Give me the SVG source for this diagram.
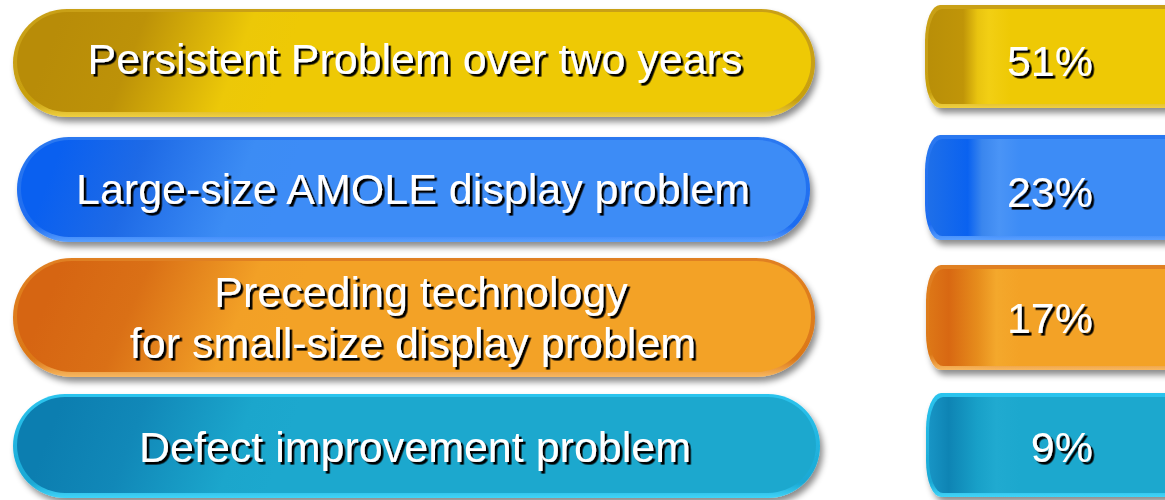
<svg xmlns="http://www.w3.org/2000/svg" width="1165" height="500" viewBox="0 0 1165 500">
<style>
.lbl{font-family:"Liberation Sans",Arial,sans-serif;font-size:43px;fill:#ffffff;filter:url(#ts)}
.mid{text-anchor:middle}
.end{text-anchor:end}
.pill{filter:url(#ds)}
</style>
<defs>
<filter id="ds" x="-5%" y="-20%" width="112%" height="150%">
<feDropShadow dx="3" dy="5" stdDeviation="3" flood-color="#000" flood-opacity="0.45"/>
</filter>
<filter id="ts" x="-5%" y="-20%" width="110%" height="150%">
<feDropShadow dx="2.6" dy="2.6" stdDeviation="0.5" flood-color="#000" flood-opacity="1"/>
</filter>
<linearGradient id="rimY" x1="0" y1="0" x2="0" y2="1"><stop offset="0" stop-color="#c9a018"/><stop offset="0.85" stop-color="#c8a010"/><stop offset="1" stop-color="#f0d040"/></linearGradient>
<linearGradient id="rimB" x1="0" y1="0" x2="0" y2="1"><stop offset="0" stop-color="#2a78f0"/><stop offset="0.85" stop-color="#1e6cf0"/><stop offset="1" stop-color="#5aa0ff"/></linearGradient>
<linearGradient id="rimO" x1="0" y1="0" x2="0" y2="1"><stop offset="0" stop-color="#e08022"/><stop offset="0.85" stop-color="#dc7818"/><stop offset="1" stop-color="#f8b860"/></linearGradient>
<linearGradient id="rimT" x1="0" y1="0" x2="0" y2="1"><stop offset="0" stop-color="#2cc4ee"/><stop offset="0.85" stop-color="#1aa8d4"/><stop offset="1" stop-color="#40d4f8"/></linearGradient>
<linearGradient id="fY" gradientUnits="userSpaceOnUse" x1="60" y1="20" x2="270" y2="100"><stop offset="0" stop-color="#b88c08"/><stop offset="0.35" stop-color="#bd9208"/><stop offset="0.8" stop-color="#ecc808"/><stop offset="1" stop-color="#eec905"/></linearGradient>
<linearGradient id="fB" gradientUnits="userSpaceOnUse" x1="60" y1="150" x2="270" y2="230"><stop offset="0" stop-color="#0a60f0"/><stop offset="0.35" stop-color="#1e6ae6"/><stop offset="0.8" stop-color="#3c8cf4"/><stop offset="1" stop-color="#3d8cf6"/></linearGradient>
<linearGradient id="fO" gradientUnits="userSpaceOnUse" x1="60" y1="270" x2="270" y2="360"><stop offset="0" stop-color="#d66512"/><stop offset="0.35" stop-color="#da7016"/><stop offset="0.8" stop-color="#f2a026"/><stop offset="1" stop-color="#f3a226"/></linearGradient>
<linearGradient id="fT" gradientUnits="userSpaceOnUse" x1="60" y1="405" x2="270" y2="485"><stop offset="0" stop-color="#0c7eb0"/><stop offset="0.35" stop-color="#1188b8"/><stop offset="0.8" stop-color="#1ba6cc"/><stop offset="1" stop-color="#1ca8ce"/></linearGradient>
<linearGradient id="gY" gradientUnits="userSpaceOnUse" x1="925" y1="0" x2="1010" y2="0"><stop offset="0" stop-color="#b88e08"/><stop offset="0.45" stop-color="#c09508"/><stop offset="0.62" stop-color="#e9c410"/><stop offset="0.75" stop-color="#f2cf14"/><stop offset="1" stop-color="#eec905"/></linearGradient>
<linearGradient id="gB" gradientUnits="userSpaceOnUse" x1="925" y1="0" x2="1020" y2="0"><stop offset="0" stop-color="#2070e8"/><stop offset="0.45" stop-color="#0a62f0"/><stop offset="0.6" stop-color="#3a86ee"/><stop offset="0.78" stop-color="#4a94f6"/><stop offset="1" stop-color="#3d8cf6"/></linearGradient>
<linearGradient id="gO" gradientUnits="userSpaceOnUse" x1="925" y1="0" x2="1020" y2="0"><stop offset="0" stop-color="#de7a18"/><stop offset="0.25" stop-color="#d86812"/><stop offset="0.55" stop-color="#e68c1c"/><stop offset="0.75" stop-color="#f4a82c"/><stop offset="1" stop-color="#f3a226"/></linearGradient>
<linearGradient id="gT" gradientUnits="userSpaceOnUse" x1="925" y1="0" x2="1020" y2="0"><stop offset="0" stop-color="#1a98c8"/><stop offset="0.25" stop-color="#0e84b4"/><stop offset="0.55" stop-color="#18a0c8"/><stop offset="0.75" stop-color="#20aad0"/><stop offset="1" stop-color="#1ca8ce"/></linearGradient>
</defs>
<rect width="1165" height="500" fill="#ffffff"/>

<g id="row1-label">
<rect class="pill" x="13" y="9" width="802" height="108" rx="54" fill="url(#rimY)"/>
<rect x="17" y="12" width="794" height="100" rx="50" fill="url(#fY)"/>
<text class="lbl mid" x="415" y="74">Persistent Problem over two years</text>
</g>
<g id="row1-value">
<path class="pill" d="M1170 5 H940 A15 36 0 0 0 925 41 V72 A15 36 0 0 0 940 108 H1170 Z" fill="url(#rimY)"/>
<path d="M1170 9 H942 A14 33 0 0 0 928 42 V71 A14 33 0 0 0 942 104 H1170 Z" fill="url(#gY)"/>
<text class="lbl end" x="1093" y="76">51%</text>
</g>

<g id="row2-label">
<rect class="pill" x="17" y="137" width="793" height="105" rx="52" fill="url(#rimB)"/>
<rect x="21" y="140" width="785" height="97" rx="48" fill="url(#fB)"/>
<text class="lbl mid" x="413" y="204">Large-size AMOLE display problem</text>
</g>
<g id="row2-value">
<path class="pill" d="M1170 135 H940 A15 36 0 0 0 925 171 V204 A15 36 0 0 0 940 240 H1170 Z" fill="url(#rimB)"/>
<path d="M1170 139 H942 A14 33 0 0 0 928 172 V203 A14 33 0 0 0 942 236 H1170 Z" fill="url(#gB)"/>
<text class="lbl end" x="1093" y="207">23%</text>
</g>

<g id="row3-label">
<rect class="pill" x="13" y="258" width="802" height="119" rx="59" fill="url(#rimO)"/>
<rect x="17" y="261" width="794" height="111" rx="55" fill="url(#fO)"/>
<text class="lbl mid" x="421" y="307">Preceding technology</text>
<text class="lbl mid" x="413" y="358">for small-size display problem</text>
</g>
<g id="row3-value">
<path class="pill" d="M1170 265 H941 A15 36 0 0 0 926 301 V334 A15 36 0 0 0 941 370 H1170 Z" fill="url(#rimO)"/>
<path d="M1170 269 H943 A14 33 0 0 0 929 302 V333 A14 33 0 0 0 943 366 H1170 Z" fill="url(#gO)"/>
<text class="lbl end" x="1093" y="333">17%</text>
</g>

<g id="row4-label">
<rect class="pill" x="13" y="394" width="807" height="104" rx="52" fill="url(#rimT)"/>
<rect x="17" y="397" width="799" height="96" rx="48" fill="url(#fT)"/>
<text class="lbl mid" x="415" y="462">Defect improvement problem</text>
</g>
<g id="row4-value">
<path class="pill" d="M1170 393 H941 A15 36 0 0 0 926 429 V461 A15 36 0 0 0 941 497 H1170 Z" fill="url(#rimT)"/>
<path d="M1170 397 H943 A14 33 0 0 0 929 430 V460 A14 33 0 0 0 943 493 H1170 Z" fill="url(#gT)"/>
<text class="lbl end" x="1093" y="462">9%</text>
</g>
</svg>
